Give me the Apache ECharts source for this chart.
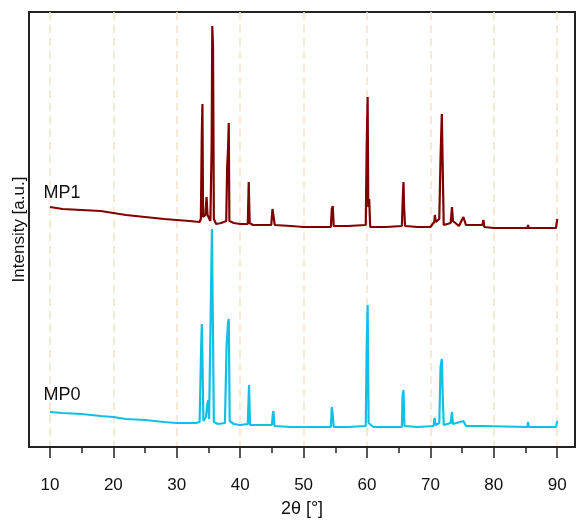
<!DOCTYPE html>
<html>
<head>
<meta charset="utf-8">
<script src="https://cdn.jsdelivr.net/npm/echarts@6/dist/echarts.min.js"></script>
<style>
  html, body { margin: 0; padding: 0; background: #fff; }
  #chart { width: 576px; height: 521px; }
</style>
</head>
<body>
<div id="chart"></div>
<script>
// 2theta / intensity pairs (a.u.)
var mp1Data = [
  [10, 240], [12, 238], [15, 237], [18, 236], [20, 234], [22, 232], [25, 230], [28, 228], [30, 227], [32, 226], [33.6, 225],
  [33.8, 228], [33.95, 313], [34.05, 343], [34.15, 230], [34.5, 232], [34.7, 250], [34.85, 232], [35.3, 226], [35.5, 300],
  [35.6, 421], [35.72, 400], [35.85, 228], [36.2, 223], [37, 224], [37.8, 226], [37.95, 280], [38.1, 300], [38.2, 324],
  [38.3, 226], [39, 224], [40, 223], [41.2, 223], [41.35, 265], [41.5, 224], [42, 222], [44.9, 222], [45.1, 238], [45.3, 240],
  [45.45, 222], [48, 221], [50, 220], [54.3, 220], [54.45, 238], [54.6, 241], [54.75, 221], [57, 221], [59.8, 222],
  [59.95, 300], [60.1, 350], [60.2, 240], [60.35, 248], [60.5, 220], [63, 220], [65.5, 221], [65.65, 250], [65.75, 265],
  [65.85, 240], [66, 221], [68, 220], [70, 220], [70.6, 225], [70.7, 232], [70.85, 225], [71.4, 228], [71.6, 290],
  [71.8, 333], [71.95, 275], [72.1, 222], [73.2, 224], [73.4, 240], [73.55, 226], [74.5, 221], [75.2, 230], [75.4, 230],
  [75.6, 222], [78.2, 222], [78.35, 227], [78.5, 220], [80, 219], [85.3, 219], [85.4, 222], [85.5, 219], [87.4, 219],
  [87.5, 221], [87.6, 219], [89.8, 219], [90, 228]
];
var mp0Data = [
  [10, 35], [12, 34], [15, 33], [18, 31], [20, 30], [22, 28], [25, 27], [28, 25], [30, 24], [33, 24], [33.6, 25],
  [33.85, 100], [33.95, 123], [34.05, 90], [34.2, 26], [34.6, 30], [34.8, 42], [34.95, 47], [35.1, 28], [35.4, 30],
  [35.55, 218], [35.7, 120], [35.85, 25], [36.5, 23], [37.6, 24], [37.85, 100], [38.1, 125], [38.2, 128], [38.35, 26],
  [39, 23], [40, 22], [41.2, 23], [41.4, 62], [41.55, 22], [45, 22], [45.15, 33], [45.25, 36], [45.4, 21], [48, 20],
  [50, 20], [54.3, 20], [54.45, 40], [54.6, 32], [54.75, 20], [57, 20], [59.8, 21], [59.95, 100], [60.1, 142], [60.25, 24],
  [61, 20], [65.5, 20], [65.6, 50], [65.75, 57], [65.9, 21], [68, 20], [70.5, 21], [70.65, 29], [70.8, 22], [71.4, 24],
  [71.6, 80], [71.8, 88], [71.95, 50], [72.1, 22], [73.2, 24], [73.4, 35], [73.55, 23], [75.2, 26], [75.4, 28], [75.6, 21],
  [78.2, 21], [78.35, 23], [78.5, 20], [85.3, 20], [85.4, 25], [85.5, 20], [89.8, 20], [90, 26]
];
var majorTicks = [10, 20, 30, 40, 50, 60, 70, 80, 90];
var minorTicks = [15, 25, 35, 45, 55, 65, 75, 85];

var font = 'Liberation Sans, Arial, sans-serif';
var chart = echarts.init(document.getElementById('chart'));

function sampleLabel(text, dy) {
  return {
    symbol: 'circle', symbolSize: 0, silent: true,
    data: [{ coord: text === 'MP1' ? mp1Data[0] : mp0Data[0], value: text }],
    label: { show: true, formatter: text, position: 'top', offset: [12, dy],
      fontFamily: font, fontSize: 18, color: '#111' }
  };
}

var option = {
  animation: false,
  grid: {
    left: 29, top: 12, right: 1, bottom: 74,
    outerBoundsMode: 'none', containLabel: false,
    show: true, borderColor: '#222', borderWidth: 2
  },
  xAxis: [
    {
      type: 'value', min: 6.7, max: 92.8,
      name: '2θ [°]', nameLocation: 'middle', nameGap: 53,
      nameTextStyle: { fontFamily: font, fontSize: 18, color: '#111' },
      axisLine: { show: true, lineStyle: { color: '#222', width: 2 } },
      axisTick: { show: true, customValues: majorTicks, length: 11, lineStyle: { color: '#222', width: 1.5 } },
      axisLabel: { customValues: majorTicks, margin: 30, fontFamily: font, fontSize: 17, color: '#111' },
      splitLine: { show: true, lineStyle: { color: '#f3e2c8', type: [8, 5], width: 1.5 } }
    },
    {
      type: 'value', min: 6.7, max: 92.8, position: 'bottom',
      axisLine: { show: false },
      axisTick: { show: true, customValues: minorTicks, length: 6, lineStyle: { color: '#222', width: 1.5 } },
      axisLabel: { show: false },
      splitLine: { show: false }
    }
  ],
  yAxis: {
    type: 'value', min: 0, max: 435,
    name: 'Intensity [a.u.]', nameLocation: 'middle', nameGap: 1, nameRotate: 90,
    nameTextStyle: { fontFamily: font, fontSize: 17, color: '#111' },
    axisLine: { show: true, lineStyle: { color: '#222', width: 2 } },
    axisTick: { show: false },
    axisLabel: { show: false },
    splitLine: { show: false }
  },
  series: [
    {
      name: 'MP1', type: 'line', data: mp1Data, showSymbol: false,
      lineStyle: { color: '#800000', width: 2.2 },
      markPoint: sampleLabel('MP1', 0)
    },
    {
      name: 'MP0', type: 'line', data: mp0Data, showSymbol: false,
      lineStyle: { color: '#14bfe4', width: 2.2 },
      markPoint: sampleLabel('MP0', -3)
    }
  ]
};
chart.setOption(option);
</script>
</body>
</html>
